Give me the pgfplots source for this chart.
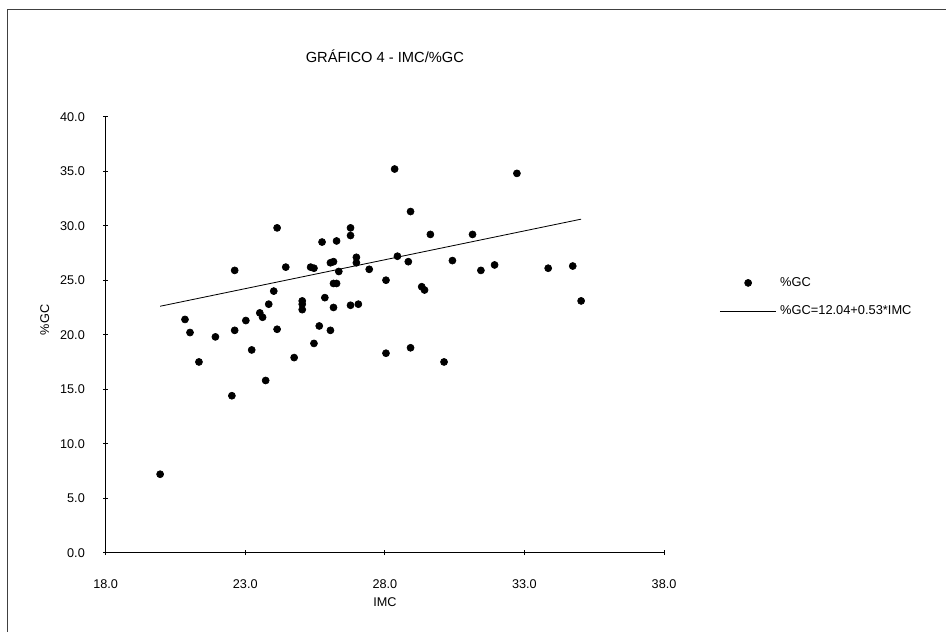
\documentclass[border=0pt]{standalone}
\usepackage{pgfplots}
\pgfplotsset{compat=1.18}
\usepackage{fontspec}
\setmainfont{Liberation Sans}
\pgfplotstableread{
x y
19.95 7.2
20.84 21.4
21.02 20.2
21.34 17.5
21.93 19.8
22.52 14.4
22.62 25.9
22.62 20.4
23.02 21.3
23.23 18.6
23.52 22.0
23.62 21.6
23.73 15.8
23.84 22.8
24.02 24.0
24.14 29.8
24.14 20.5
24.45 26.2
24.75 17.9
25.04 23.1
25.04 22.8
25.04 22.3
25.34 26.2
25.46 26.1
25.46 19.2
25.65 20.8
25.75 28.5
25.85 23.4
26.05 26.6
26.16 26.7
26.05 20.4
26.16 24.7
26.27 24.7
26.27 28.6
26.16 22.5
26.35 25.8
26.77 29.8
26.77 29.1
26.77 22.7
27.05 22.8
26.98 27.1
26.98 26.6
27.44 26.0
28.04 25.0
28.04 18.3
28.35 35.2
32.73 34.8
28.92 31.3
29.63 29.2
31.14 29.2
28.45 27.2
28.84 26.7
30.42 26.8
31.44 25.9
31.93 26.4
33.85 26.1
34.73 26.3
35.03 23.1
29.32 24.4
29.42 24.1
28.92 18.8
30.12 17.5
}\gcdata
\begin{document}
\begin{tikzpicture}
\useasboundingbox (0,0) rectangle (567.6pt,-379.2pt);
\draw[line width=0.6pt, black!75] (4.2pt,-379.2pt) -- (4.2pt,-6pt) -- (567.6pt,-6pt);
\begin{axis}[
  at={(63.42pt,-331.62pt)}, anchor=south west,
  scale only axis, width=335pt, height=261.6pt,
  xmin=18, xmax=38, ymin=0, ymax=40,
  axis lines=left, axis line style={-, line width=0.6pt, black},
  xtick={18,23,28,33,38}, ytick={0,5,...,40},
  tick align=center, major tick length=3pt, tick style={line width=0.5pt, black},
  xticklabel shift=11pt, yticklabel shift=7.5pt,
  tick label style={font=\fontsize{7.6}{8}\selectfont},
  /pgf/number format/fixed, /pgf/number format/fixed zerofill,
  /pgf/number format/precision=1, /pgf/number format/assume math mode=true,
  title={GRÁFICO 4 - IMC/\%GC},
  title style={at={(axis description cs:0.5,1.1147)}, anchor=center, font=\fontsize{8.8}{10}\selectfont},
  xlabel={IMC},
  xlabel style={at={(axis description cs:0.5,-0.113)}, anchor=center, font=\fontsize{7.6}{9}\selectfont},
  ylabel={\%GC},
  ylabel style={at={(axis description cs:-0.109,0.534)}, anchor=center, font=\fontsize{7.6}{9}\selectfont},
  legend style={draw=none, fill=none, at={(axis description cs:1.0896,0.648)}, anchor=north west,
    font=\fontsize{7.7}{9}\selectfont, row sep=6pt},
  legend cell align=left,
  legend image code/.code={\draw[mark repeat=2,mark phase=2,#1] plot coordinates {(0pt,0pt) (17pt,0pt) (34pt,0pt)};},
  clip=false,
]
\addplot[only marks, mark=*, mark size=2.1pt, black] table[x=x, y=y] {\gcdata};
\addlegendentry{\%GC}
\addplot[black, line width=0.5pt, mark=none] coordinates {(19.95,22.61) (35.03,30.60)};
\addlegendentry{\%GC=12.04+0.53*IMC}
\end{axis}
\end{tikzpicture}
\end{document}
